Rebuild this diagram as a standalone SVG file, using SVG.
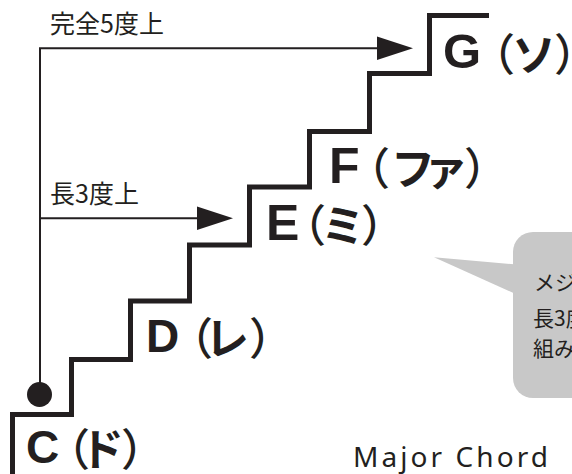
<svg xmlns="http://www.w3.org/2000/svg" width="572" height="474" viewBox="0 0 572 474">
<style>
.stair{fill:none;stroke:#231f20;stroke-width:5;stroke-linejoin:miter;stroke-linecap:butt}
.thin{fill:none;stroke:#231f20;stroke-width:2}
.ah{fill:#231f20}
.lbl{font-family:"Liberation Sans",Arial,sans-serif;font-weight:bold;fill:#231f20}
.kana{font-family:"Noto Sans CJK JP",sans-serif;font-weight:bold;font-size:44px;fill:#231f20}
.par{font-weight:500}
.note{font-family:"Noto Sans CJK JP",sans-serif;font-size:25px;fill:#231f20}
.bub{font-family:"Noto Sans CJK JP",sans-serif;font-size:21px;fill:#231f20}
.title{font-family:"Noto Sans","Liberation Sans",sans-serif;font-size:28px;fill:#231f20}
</style>
<rect width="572" height="474" fill="#ffffff"/>
<g id="stairs">
<path class="stair" d="M12.5 474 V414.5 H71.5 V359.5 H130.5 V301 H189.5 V245 H249.5 V187 H309.5 V131.5 H369.5 V73.5 H429.5 V15.5 H489"/>
</g>
<g id="connectors">
<path class="thin" d="M40 394 V48.3 H380"/>
<polygon class="ah" points="377,36.5 413,48.3 377,60"/>
<path class="thin" d="M40 218.3 H200"/>
<polygon class="ah" points="197,206.5 233,218.3 197,230"/>
<circle cx="39.5" cy="394.5" r="12.5" fill="#231f20"/>
</g>
<g id="label-perfect5">
<text class="note" x="50" y="33">完全5度上</text>
</g>
<g id="label-major3">
<text class="note" x="50" y="203">長3度上</text>
</g>
<g id="node-C">
<text class="lbl" x="26" y="463" font-size="46">C</text>
<text class="kana" y="466"><tspan class="par" x="46">（</tspan><tspan x="80">ド</tspan><tspan class="par" x="121">）</tspan></text>
</g>
<g id="node-D">
<text class="lbl" x="146" y="352" font-size="46">D</text>
<text class="kana" y="355"><tspan class="par" x="169">（</tspan><tspan x="205">レ</tspan><tspan class="par" x="249">）</tspan></text>
</g>
<g id="node-E">
<text class="lbl" x="266" y="240" font-size="50">E</text>
<text class="kana" y="242"><tspan class="par" x="282">（</tspan><tspan x="321">ミ</tspan><tspan class="par" x="361">）</tspan></text>
</g>
<g id="node-F">
<text class="lbl" x="329" y="183" font-size="50">F</text>
<text class="kana" y="185"><tspan class="par" x="346">（</tspan><tspan x="391">フ</tspan><tspan x="424">ァ</tspan><tspan class="par" x="464">）</tspan></text>
</g>
<g id="node-G">
<text class="lbl" x="443" y="68" font-size="49">G</text>
<text class="kana" y="71"><tspan class="par" x="471">（</tspan><tspan x="512">ソ</tspan><tspan class="par" x="554">）</tspan></text>
</g>
<g id="bubble">
<rect x="513" y="232" width="100" height="166" rx="20" fill="#c8c8c8"/>
<polygon points="434,257.3 514,264.3 514,293.3" fill="#c8c8c8"/>
<text class="bub" x="534" y="290">メジャーコードは</text>
<text class="bub" x="533" y="326">長3度と短3度の</text>
<text class="bub" x="533" y="356">組み合わせ</text>
</g>
<g id="title">
<text class="title" x="353" y="467" textLength="195" lengthAdjust="spacing">Major Chord</text>
</g>
</svg>
